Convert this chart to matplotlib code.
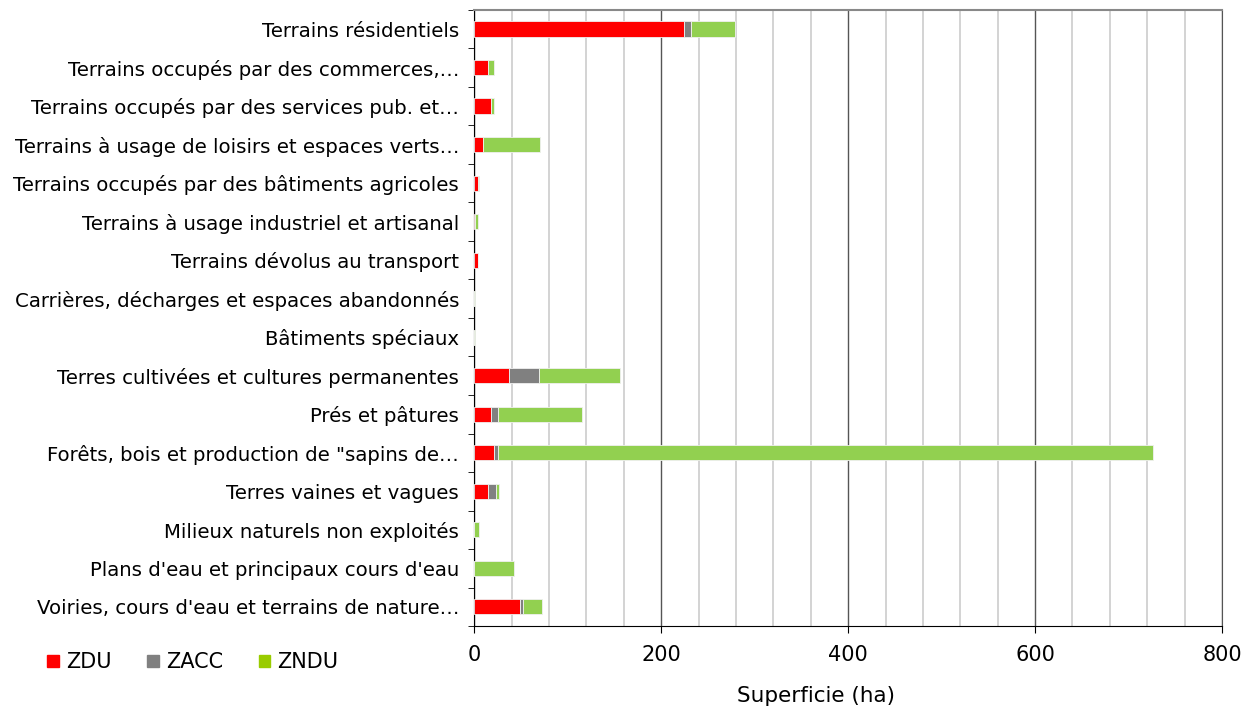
import numpy as np
import matplotlib
matplotlib.use("Agg")
import matplotlib.pyplot as plt
from matplotlib.patches import Patch

categories = [
    "Terrains résidentiels",
    "Terrains occupés par des commerces,…",
    "Terrains occupés par des services pub. et…",
    "Terrains à usage de loisirs et espaces verts…",
    "Terrains occupés par des bâtiments agricoles",
    "Terrains à usage industriel et artisanal",
    "Terrains dévolus au transport",
    "Carrières, décharges et espaces abandonnés",
    "Bâtiments spéciaux",
    "Terres cultivées et cultures permanentes",
    "Prés et pâtures",
    "Forêts, bois et production de \"sapins de…",
    "Terres vaines et vagues",
    "Milieux naturels non exploités",
    "Plans d'eau et principaux cours d'eau",
    "Voiries, cours d'eau et terrains de nature…",
]
zdu = [224, 15, 17.5, 9, 4, 0.5, 3.5, 0, 0, 37, 18, 21, 15, 0, 0, 49]
zacc = [8, 0, 0, 0, 0, 0, 0, 0, 0, 32.5, 7, 4.5, 8, 0, 0, 3.5]
zndu = [47, 6, 3, 61, 1.5, 3.5, 0.5, 0.5, 0.5, 86.5, 90, 701, 3.5, 5.5, 42, 20]

series = [("ZDU", zdu, "#FF0000", "#FF0000"),
          ("ZACC", zacc, "#808080", "#808080"),
          ("ZNDU", zndu, "#92D050", "#99CC00")]

plt.rcParams["font.family"] = "DejaVu Sans"
fig = plt.figure(figsize=(12.45, 7.09), dpi=100)
ax = fig.add_axes([0.381, 0.117, 0.6005, 0.869])

y = np.arange(len(categories))
left = np.zeros(len(categories))
for name, vals, col, _ in series:
    vals = np.array(vals, dtype=float)
    ax.barh(y, vals, left=left, height=0.4, color=col, edgecolor="#f0f0f0",
            linewidth=0.6, zorder=3)
    left += vals

ax.set_ylim(len(categories) - 0.5, -0.5)
ax.set_xlim(0, 800)
ax.set_xticks(np.arange(0, 801, 200))
ax.set_xticks(np.arange(0, 801, 40), minor=True)
ax.grid(axis="x", which="minor", color="#cccccc", linewidth=1.2, zorder=0)
ax.grid(axis="x", which="major", color="#555555", linewidth=1.0, zorder=1)
ax.tick_params(axis="x", which="minor", length=0)
ax.tick_params(axis="x", which="major", length=5, labelsize=15, pad=9)

ax.set_yticks(y)
ax.set_yticklabels(categories, fontsize=14.2)
ax.set_yticks(np.arange(-0.5, len(categories), 1), minor=True)
ax.tick_params(axis="y", which="major", length=0, pad=11)
ax.tick_params(axis="y", which="minor", length=4)

ax.spines["left"].set_color("#000000")
ax.spines["bottom"].set_color("#000000")
ax.spines["right"].set_color("#555555")
ax.spines["top"].set_color("#888888")
ax.spines["top"].set_linewidth(1.5)

ax.set_xlabel("Superficie (ha)", fontsize=15.5)
ax.xaxis.set_label_coords(0.457, -0.097)

handles = [Patch(facecolor=lc, edgecolor=lc, label=n) for n, _, _, lc in series]
fig.legend(handles=handles, loc="center left", bbox_to_anchor=(0.0314, 0.066),
           ncol=3, frameon=False, fontsize=15, handlelength=0.55,
           handleheight=0.55, handletextpad=0.35, columnspacing=1.7,
           borderaxespad=0)

fig.savefig("out.png", dpi=100)
